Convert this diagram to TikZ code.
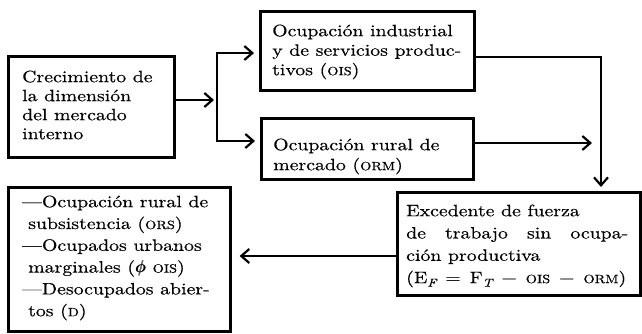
\documentclass[tikz,border=0pt]{standalone}
\usepackage{fontspec}
\setmainfont{lmroman10-regular.otf}[FakeStretch=1.2,FakeBold=0.4,ItalicFont=lmroman10-italic.otf]
\usetikzlibrary{arrows.meta}
\newcommand\fsc[1]{{\fontsize{12}{12}\selectfont #1}}
\newcommand\sbit[1]{\raisebox{-3.5pt}{\fontsize{11.5}{11.5}\selectfont\itshape #1}}
\newcommand\bphi{{\fontsize{19}{19}\selectfont\rlap{$\phi$}\hspace{0.5pt}\rlap{$\phi$}\hspace{0.5pt}$\phi$}}
\begin{document}
\begin{tikzpicture}[x=1pt,y=-1pt,
  box/.style={draw,line width=2.6pt,inner sep=0pt,anchor=north west},
  txt/.style={inner sep=0pt,anchor=north west,align=left},
  arr/.style={line width=2.2pt,-{Straight Barb[length=8pt,width=14pt]}},
  ]
\useasboundingbox (0,0) rectangle (642,333);
% boxes
\node[box,minimum width=166pt,minimum height=101pt] (A) at (7,55) {};
\node[box,minimum width=214pt,minimum height=79pt] (OIS) at (259,10) {};
\node[box,minimum width=212pt,minimum height=61pt] (ORM) at (260,117) {};
\node[box,minimum width=243pt,minimum height=103pt] (E) at (396,191) {};
\node[box,minimum width=222pt,minimum height=144pt] (D) at (7,186) {};
% texts
\node[txt,font=\fontsize{16.5}{19}\selectfont] (tA) at (22,69)
  {\rule{0pt}{13pt}Crecimiento de\\la dimensión\\del mercado\\interno};
\node[txt,font=\fontsize{16.5}{19.5}\selectfont] (tOIS) at (272,23)
  {\rule{0pt}{13pt}Ocupación industrial\\y de servicios produc-\\tivos (\fsc{OIS})};
\node[txt,font=\fontsize{16.5}{20}\selectfont] (tORM) at (273,137)
  {\rule{0pt}{13pt}Ocupación rural de\\mercado (\fsc{ORM})};
\node[txt,font=\fontsize{16.5}{22.3}\selectfont] (tE) at (406,203)
  {\rule{0pt}{13pt}Excedente de fuerza\\
   \makebox[222pt][s]{de trabajo sin ocupa-}\\
   ción productiva\\
   \makebox[220pt][s]{(E\sbit{F} = F\sbit{T} − \fsc{OIS} − \fsc{ORM})}};
\node[txt,font=\fontsize{16.5}{21.8}\selectfont] (tD) at (22,194)
  {\rule{0pt}{13pt}—Ocupación rural de\\
   \hspace*{6pt}subsistencia (\fsc{ORS})\\
   —Ocupados urbanos\\
   \hspace*{6pt}marginales (\bphi\ \fsc{OIS})\\
   —Desocupados abier-\\
   \hspace*{6pt}tos (\fsc{D})};
% connector points
\coordinate (f0) at (217,100);
\coordinate (f1) at (217,53);
\coordinate (f2) at (217,141);
\coordinate (c1) at (601,57);
\coordinate (c2) at (592,143);
\coordinate (c3) at (300,256);
% connectors
\draw[arr,shorten >=3pt] (A.east |- f0) -- (f0);
\draw[arr,shorten >=5pt] (f2) -- (f1) -- (OIS.west |- f1);
\draw[arr,shorten >=5pt] (f1) -- (f2) -- (ORM.west |- f2);
\draw[arr,shorten >=4pt] (OIS.east |- c1) -- (c1) -- (E.north -| c1);
\draw[arr] (ORM.east |- c2) -- (c2);
\draw[arr,shorten >=8pt] (E.west |- c3) -- (D.east |- c3);
\end{tikzpicture}
\end{document}
